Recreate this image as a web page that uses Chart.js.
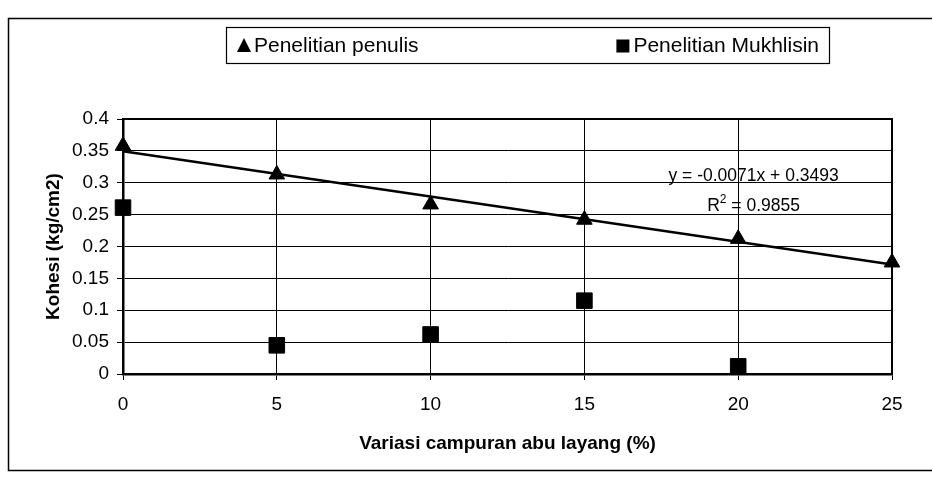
<!DOCTYPE html>
<html>
<head>
<meta charset="utf-8">
<script src="https://cdn.jsdelivr.net/npm/chart.js@4.4.1/dist/chart.umd.min.js"></script>
<style>
  html, body { margin: 0; padding: 0; background: #fff; }
  #wrap { width: 932px; height: 479px; position: relative; }
</style>
</head>
<body>
<div id="wrap"><canvas id="c" width="932" height="479"></canvas></div>
<script>
// ---- data ----
const xValues = [0, 5, 10, 15, 20, 25];
const penulisValues = [0.358, 0.313, 0.266, 0.242, 0.212, 0.175];
const mukhlisinX = [0, 5, 10, 15, 20];
const mukhlisinValues = [0.261, 0.045, 0.062, 0.115, 0.012];
const trendX = [0, 25];
const trendY = [0.3493, 0.1718];
const xTickLabels = ['0', '5', '10', '15', '20', '25'];
const yTickLabels = ['0', '0.05', '0.1', '0.15', '0.2', '0.25', '0.3', '0.35', '0.4'];
const seriesNames = ['Penelitian penulis', 'Penelitian Mukhlisin'];
const equationText = 'y = -0.0071x + 0.3493';
const r2Value = '0.9855';
const xTitle = 'Variasi campuran abu layang (%)';
const yTitle = 'Kohesi (kg/cm2)';

const FONT = "Arial, 'Liberation Sans', sans-serif";

const decorPlugin = {
  id: 'decor',
  beforeDraw(chart) {
    const ctx = chart.ctx;
    ctx.save();
    ctx.fillStyle = '#fff';
    ctx.fillRect(0, 0, chart.width, chart.height);
    ctx.restore();
  },
  beforeDatasetsDraw(chart) {
    const ctx = chart.ctx;
    const ca = chart.chartArea;
    ctx.save();
    ctx.strokeStyle = '#000';
    ctx.lineWidth = 2;
    ctx.beginPath();
    ctx.moveTo(ca.left, ca.top);
    ctx.lineTo(ca.right, ca.top);
    ctx.lineTo(ca.right, ca.bottom);
    ctx.stroke();
    ctx.restore();
  },
  afterDatasetsDraw(chart) {
    const ctx = chart.ctx;
    const xs = chart.scales.x, ys = chart.scales.y;
    ctx.save();
    ctx.strokeStyle = '#000';
    // outer frame
    ctx.lineWidth = 1.5;
    ctx.strokeRect(8.5, 18.5, 1000, 452);

    // legend box
    ctx.lineWidth = 1.2;
    ctx.strokeRect(226.5, 27.5, 603, 36);
    ctx.fillStyle = '#000';
    ctx.font = '21px ' + FONT;
    ctx.textBaseline = 'middle';
    ctx.textAlign = 'left';
    const ly = 46;
    // item 1: triangle
    const tx = 244;
    ctx.beginPath();
    ctx.moveTo(tx, ly - 8);
    ctx.lineTo(tx + 7, ly + 6);
    ctx.lineTo(tx - 7, ly + 6);
    ctx.closePath();
    ctx.fill();
    ctx.fillText(seriesNames[0], tx + 10, ly);
    // item 2: square, text right-anchored near box edge
    const w2 = ctx.measureText(seriesNames[1]).width;
    const t2 = 819 - w2;
    ctx.fillRect(t2 - 17, ly - 6.5, 13, 13);
    ctx.fillText(seriesNames[1], t2, ly);

    // trend equation
    ctx.font = '17.5px ' + FONT;
    ctx.textAlign = 'center';
    const ex = xs.getPixelForValue(20.5);
    ctx.fillText(equationText, ex, ys.getPixelForValue(0.310));
    // R^2 line
    const r2y = ys.getPixelForValue(0.263);
    const partA = 'R';
    const partB = ' = ' + r2Value;
    const wA = ctx.measureText(partA).width;
    const wB = ctx.measureText(partB).width;
    ctx.font = '12px ' + FONT;
    const wS = ctx.measureText('2').width;
    const total = wA + wS + wB;
    let cx = ex - total / 2;
    ctx.textAlign = 'left';
    ctx.font = '17.5px ' + FONT;
    ctx.fillText(partA, cx, r2y);
    cx += wA;
    ctx.font = '12px ' + FONT;
    ctx.fillText('2', cx, r2y - 7);
    cx += wS;
    ctx.font = '17.5px ' + FONT;
    ctx.fillText(partB, cx, r2y);
    ctx.restore();
  }
};

const ctx = document.getElementById('c').getContext('2d');
new Chart(ctx, {
  type: 'scatter',
  data: {
    datasets: [
      {
        label: 'trend',
        data: trendX.map((x, i) => ({ x, y: trendY[i] })),
        showLine: true,
        borderColor: '#000',
        borderWidth: 2.5,
        pointRadius: 0,
        clip: false,
        order: 3
      },
      {
        label: seriesNames[0],
        data: xValues.map((x, i) => ({ x, y: penulisValues[i] })),
        pointStyle: 'triangle',
        pointRadius: 9,
        backgroundColor: '#000',
        borderColor: '#000',
        borderWidth: 1,
        clip: false,
        order: 1
      },
      {
        label: seriesNames[1],
        data: mukhlisinX.map((x, i) => ({ x, y: mukhlisinValues[i] })),
        pointStyle: 'rect',
        pointRadius: 11,
        backgroundColor: '#000',
        borderColor: '#000',
        borderWidth: 1,
        clip: false,
        order: 2
      }
    ]
  },
  options: {
    responsive: false,
    animation: false,
    devicePixelRatio: 1,
    layout: { padding: { top: 119, right: 40, bottom: 0, left: 0 } },
    plugins: {
      legend: { display: false },
      tooltip: { enabled: false }
    },
    scales: {
      x: {
        type: 'linear',
        min: 0, max: 25,
        afterFit(scale) { scale.height = 105; },
        ticks: {
          stepSize: 5,
          color: '#000',
          padding: 13,
          font: { family: FONT, size: 19 },
          callback: (v, i) => xTickLabels[i]
        },
        grid: { color: '#000', lineWidth: 1, tickLength: 6, drawTicks: true },
        border: { color: '#000', width: 2.5 },
        title: {
          display: true,
          text: xTitle,
          color: '#000',
          font: { family: FONT, size: 19, weight: 'bold' },
          padding: { top: 0, bottom: 24 }
        }
      },
      y: {
        type: 'linear',
        min: 0, max: 0.4,
        afterFit(scale) { scale.width = 123; },
        ticks: {
          stepSize: 0.05,
          color: '#000',
          padding: 8,
          font: { family: FONT, size: 19 },
          callback: (v, i) => yTickLabels[i]
        },
        grid: { color: '#000', lineWidth: 1, tickLength: 6, drawTicks: true },
        border: { color: '#000', width: 2.5 },
        title: {
          display: true,
          text: yTitle,
          color: '#000',
          font: { family: FONT, size: 19, weight: 'bold' },
          padding: { top: 42, bottom: 0 }
        }
      }
    }
  },
  plugins: [decorPlugin]
});
</script>
</body>
</html>
